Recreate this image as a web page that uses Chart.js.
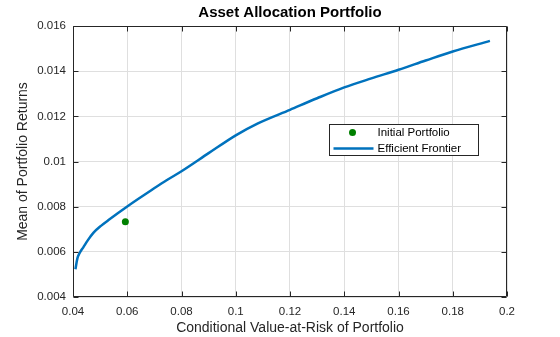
<!DOCTYPE html>
<html>
<head>
<meta charset="utf-8">
<script src="https://cdn.jsdelivr.net/npm/chart.js@4.4.1/dist/chart.umd.min.js"></script>
<style>
  html, body { margin: 0; padding: 0; background: #fff; }
</style>
</head>
<body>
<canvas id="frontierChart" width="560" height="337"></canvas>
<script>
// Efficient frontier: CVaR (x) against mean return (y)
const frontierRisk = [0.0409, 0.0416, 0.0425, 0.0438, 0.0455, 0.0475, 0.0503, 0.0536, 0.0570, 0.0600,
  0.0640, 0.0690, 0.0745, 0.0800, 0.0900, 0.1000, 0.1080, 0.1200, 0.1300, 0.1400,
  0.1500, 0.1600, 0.1700, 0.1800, 0.1937];
const frontierReturn = [0.00523, 0.00570, 0.00596, 0.00620, 0.00652, 0.00684, 0.00715, 0.00745, 0.00775, 0.00801,
  0.00834, 0.00874, 0.00917, 0.00957, 0.01037, 0.01116, 0.01168, 0.01229, 0.01280, 0.01328,
  0.01368, 0.01406, 0.01447, 0.01487, 0.01534];

// Initial portfolio
const initialRisk = [0.0593];
const initialReturn = [0.00733];

// Tick labels
const xTicks = [0.04, 0.06, 0.08, 0.1, 0.12, 0.14, 0.16, 0.18, 0.2];
const xTickLabels = ["0.04", "0.06", "0.08", "0.1", "0.12", "0.14", "0.16", "0.18", "0.2"];
const yTicks = [0.004, 0.006, 0.008, 0.01, 0.012, 0.014, 0.016];
const yTickLabels = ["0.004", "0.006", "0.008", "0.01", "0.012", "0.014", "0.016"];

const FONT = '"Liberation Sans", Arial, sans-serif';
const AXIS_COLOR = "#262626";

// box + inward ticks on all four sides
const axesFrame = {
  id: "axesFrame",
  afterDatasetsDraw(chart) {
    const { ctx, chartArea: a, scales: { x, y } } = chart;
    const L = Math.round(a.left) + 0.5, R = Math.round(a.right) - 0.5;
    const T = Math.round(a.top) + 0.5, B = Math.round(a.bottom) - 0.5;
    ctx.save();
    ctx.strokeStyle = AXIS_COLOR;
    ctx.lineWidth = 1;
    ctx.beginPath();
    ctx.rect(L, T, R - L, B - T);
    x.ticks.forEach(t => {
      const px = Math.round(x.getPixelForValue(t.value)) + 0.5;
      ctx.moveTo(px, B); ctx.lineTo(px, B - 5);
      ctx.moveTo(px, T); ctx.lineTo(px, T + 5);
    });
    y.ticks.forEach(t => {
      const py = Math.round(y.getPixelForValue(t.value)) + 0.5;
      ctx.moveTo(L, py); ctx.lineTo(L + 5, py);
      ctx.moveTo(R, py); ctx.lineTo(R - 5, py);
    });
    ctx.stroke();
    ctx.restore();
  }
};

// legend box inside the plot
const boxLegend = {
  id: "boxLegend",
  afterDraw(chart) {
    const { ctx, chartArea: a } = chart;
    const x0 = Math.round(a.left) + 256.5, y0 = Math.round(a.top) + 98.5;
    const w = 149, h = 31;
    ctx.save();
    ctx.fillStyle = "#fff";
    ctx.fillRect(x0, y0, w, h);
    ctx.strokeStyle = AXIS_COLOR;
    ctx.lineWidth = 1;
    ctx.strokeRect(x0, y0, w, h);
    ctx.font = "11.5px " + FONT;
    ctx.textBaseline = "middle";
    chart.data.datasets.forEach((ds, i) => {
      const cy = y0 + 8 + i * 16;
      if (ds.showLine) {
        ctx.strokeStyle = ds.borderColor;
        ctx.lineWidth = ds.borderWidth;
        ctx.beginPath();
        ctx.moveTo(x0 + 4, cy);
        ctx.lineTo(x0 + 44, cy);
        ctx.stroke();
      } else {
        ctx.fillStyle = ds.backgroundColor;
        ctx.beginPath();
        ctx.arc(x0 + 23, cy, ds.pointRadius, 0, Math.PI * 2);
        ctx.fill();
      }
      ctx.fillStyle = "#000";
      ctx.fillText(ds.label, x0 + 48, cy);
    });
    ctx.restore();
  }
};

const ctx = document.getElementById("frontierChart").getContext("2d");
new Chart(ctx, {
  type: "scatter",
  data: {
    datasets: [
      {
        label: "Initial Portfolio",
        data: initialRisk.map((v, i) => ({ x: v, y: initialReturn[i] })),
        backgroundColor: "#008000",
        borderWidth: 0,
        pointRadius: 3.5,
      },
      {
        label: "Efficient Frontier",
        data: frontierRisk.map((v, i) => ({ x: v, y: frontierReturn[i] })),
        showLine: true,
        borderColor: "#0072BD",
        borderWidth: 2.5,
        pointRadius: 0,
        cubicInterpolationMode: "monotone",
      },
    ],
  },
  options: {
    responsive: false,
    devicePixelRatio: 1,
    animation: false,
    layout: { padding: { left: 0, right: 53, top: 0, bottom: 0 } },
    plugins: {
      legend: { display: false },
      tooltip: { enabled: false },
      title: {
        display: true,
        text: "Asset Allocation Portfolio",
        fullSize: false,
        color: "#000",
        font: { family: FONT, size: 15, weight: "bold" },
        padding: { top: 4, bottom: 4 },
      },
    },
    scales: {
      x: {
        type: "linear",
        min: 0.04,
        max: 0.2,
        afterBuildTicks: s => { s.ticks = xTicks.map(v => ({ value: v })); },
        afterFit: s => { s.height = 40; },
        ticks: {
          callback: (v, i) => xTickLabels[i],
          color: AXIS_COLOR,
          font: { family: FONT, size: 11.5 },
          padding: 8,
          maxRotation: 0,
        },
        grid: { color: "#dfdfdf", drawTicks: false },
        border: { display: false },
        title: {
          display: true,
          text: "Conditional Value-at-Risk of Portfolio",
          color: AXIS_COLOR,
          font: { family: FONT, size: 14 },
          padding: { top: 0, bottom: 0 },
        },
      },
      y: {
        type: "linear",
        min: 0.004,
        max: 0.016,
        afterBuildTicks: s => { s.ticks = yTicks.map(v => ({ value: v })); },
        afterFit: s => { s.width = 73; },
        ticks: {
          callback: (v, i) => yTickLabels[i],
          color: AXIS_COLOR,
          font: { family: FONT, size: 11.5 },
          padding: 7,
        },
        grid: { color: "#dfdfdf", drawTicks: false },
        border: { display: false },
        title: {
          display: true,
          text: "Mean of Portfolio Returns",
          color: AXIS_COLOR,
          font: { family: FONT, size: 14 },
          padding: { top: 15, bottom: 0 },
        },
      },
    },
  },
  plugins: [axesFrame, boxLegend],
});
</script>
</body>
</html>
